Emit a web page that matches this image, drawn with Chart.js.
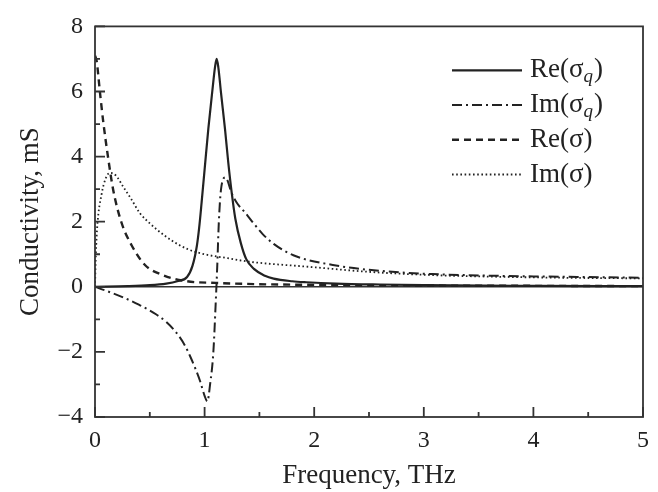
<!DOCTYPE html>
<html>
<head>
<meta charset="utf-8">
<script src="https://cdn.jsdelivr.net/npm/chart.js@4"></script>
<style>
  body { margin: 0; background: #fff; }
</style>
</head>
<body>
<canvas id="chart" width="658" height="492"></canvas>
<script>
// valores (frequência em THz, condutividade em mS)
const freqReSq = [0, 0.3, 0.5, 0.65, 0.75, 0.84, 0.89, 0.93, 0.95, 0.973, 1.0, 1.034, 1.07, 1.095, 1.11, 1.125, 1.15, 1.186, 1.215, 1.247, 1.28, 1.33, 1.38, 1.45, 1.55, 1.63, 1.8, 1.93, 2.2, 2.6, 3, 4, 5];
const valReSq  = [0, 0.02, 0.05, 0.1, 0.17, 0.3, 0.65, 1.27, 1.8, 2.6, 3.6, 4.85, 6.0, 6.75, 7.0, 6.75, 5.95, 4.85, 3.85, 2.9, 2.1, 1.35, 0.85, 0.55, 0.34, 0.25, 0.17, 0.14, 0.1, 0.07, 0.05, 0.03, 0.02];

const freqImSq = [0, 0.1, 0.26, 0.4, 0.56, 0.65, 0.745, 0.82, 0.87, 0.92, 0.96, 1.0, 1.025, 1.05, 1.08, 1.1, 1.115, 1.13, 1.15, 1.19, 1.25, 1.3, 1.37, 1.44, 1.53, 1.63, 1.81, 2.17, 2.6, 3.08, 3.5, 4, 4.5, 5];
const valImSq  = [0, -0.12, -0.33, -0.55, -0.85, -1.08, -1.42, -1.8, -2.15, -2.55, -2.91, -3.35, -3.52, -3.0, -2.0, -0.6, 0.6, 2.0, 3.0, 3.36, 2.85, 2.55, 2.28, 1.98, 1.62, 1.32, 0.97, 0.67, 0.49, 0.39, 0.35, 0.32, 0.3, 0.28];

const freqReS = [0, 0.015, 0.046, 0.076, 0.12, 0.167, 0.243, 0.335, 0.456, 0.61, 0.84, 1.1, 1.5, 2, 3, 4, 5];
const valReS  = [7.1, 6.94, 5.95, 5.05, 3.96, 2.96, 1.96, 1.27, 0.67, 0.37, 0.17, 0.12, 0.08, 0.06, 0.04, 0.03, 0.02];

const freqImS = [0, 0.008, 0.021, 0.061, 0.1, 0.137, 0.19, 0.26, 0.33, 0.41, 0.5, 0.56, 0.71, 0.85, 1.0, 1.21, 1.41, 1.93, 2.54, 3.15, 3.5, 4, 4.5, 5];
const valImS  = [0, 1.0, 1.87, 2.86, 3.35, 3.5, 3.42, 3.06, 2.7, 2.26, 1.95, 1.77, 1.4, 1.15, 1.0, 0.88, 0.77, 0.62, 0.45, 0.35, 0.32, 0.29, 0.27, 0.26];

const legendas = ['Re(σ_q)', 'Im(σ_q)', 'Re(σ)', 'Im(σ)'];
const xTicks = [0, 1, 2, 3, 4, 5];
const yTicks = [-4, -2, 0, 2, 4, 6, 8];

const COR = '#222';
const FONTE = '"Liberation Serif", "Times New Roman", serif';

function pares(xs, ys) {
    return xs.map((x, i) => ({ x: x, y: ys[i] }));
}

function serie(label, xs, ys, dash, width) {
    return {
        label: label,
        data: pares(xs, ys),
        borderColor: COR,
        borderWidth: width,
        borderDash: dash,
        pointRadius: 0,
        fill: false,
        cubicInterpolationMode: 'monotone'
    };
}

// Legenda desenhada à mão para ter o subscrito em itálico
const pluginLegenda = {
    id: 'legendaSub',
    afterDraw(chart) {
        const { ctx, chartArea } = chart;
        const x0 = chartArea.right - 191;
        const lineLen = 70;
        ctx.save();
        chart.data.datasets.forEach((ds, i) => {
            const y = chartArea.top + 44 + i * 34.7;
            ctx.beginPath();
            ctx.strokeStyle = COR;
            ctx.lineWidth = ds.borderWidth;
            ctx.setLineDash(ds.borderDash || []);
            ctx.moveTo(x0, y);
            ctx.lineTo(x0 + lineLen, y);
            ctx.stroke();
            ctx.setLineDash([]);

            const partes = ds.label.split('_');
            let tx = x0 + lineLen + 8;
            ctx.fillStyle = COR;
            ctx.textBaseline = 'middle';
            ctx.textAlign = 'left';
            ctx.font = '27px ' + FONTE;
            if (partes.length === 1) {
                ctx.fillText(partes[0], tx, y);
            } else {
                const base = partes[0];
                const sub = partes[1].replace(')', '');
                ctx.fillText(base, tx, y);
                tx += ctx.measureText(base).width;
                ctx.font = 'italic 19px ' + FONTE;
                ctx.fillText(sub, tx, y + 7);
                tx += ctx.measureText(sub).width + 1;
                ctx.font = '27px ' + FONTE;
                ctx.fillText(')', tx, y);
            }
        });
        ctx.restore();
    }
};

// Moldura e marcas de escala para dentro
const pluginMoldura = {
    id: 'moldura',
    afterDatasetsDraw(chart) {
        const { ctx, chartArea, scales } = chart;
        ctx.save();
        ctx.strokeStyle = '#333';
        ctx.lineWidth = 1.8;
        ctx.setLineDash([]);
        ctx.strokeRect(chartArea.left, chartArea.top, chartArea.right - chartArea.left, chartArea.bottom - chartArea.top);

        ctx.beginPath();
        for (let v = 0; v <= 5; v += 0.5) {
            const px = scales.x.getPixelForValue(v);
            const len = Number.isInteger(v) ? 10 : 5;
            ctx.moveTo(px, chartArea.bottom);
            ctx.lineTo(px, chartArea.bottom - len);
        }
        for (let v = -4; v <= 8; v += 1) {
            const py = scales.y.getPixelForValue(v);
            const len = v % 2 === 0 ? 10 : 5;
            ctx.moveTo(chartArea.left, py);
            ctx.lineTo(chartArea.left + len, py);
        }
        ctx.stroke();
        ctx.restore();
    }
};

Chart.defaults.font.family = FONTE;
Chart.defaults.color = COR;

const grafico = new Chart(document.getElementById('chart'), {
    type: 'line',
    data: {
        datasets: [
            serie(legendas[0], freqReSq, valReSq, [], 2.2),
            serie(legendas[1], freqImSq, valImSq, [10, 4, 2, 4], 2),
            serie(legendas[2], freqReS, valReS, [7, 5], 2.4),
            serie(legendas[3], freqImS, valImS, [1.6, 2.6], 1.8)
        ]
    },
    options: {
        responsive: false,
        animation: false,
        devicePixelRatio: 1,
        layout: { padding: { top: 14, right: 15, left: 0, bottom: 0 } },
        plugins: {
            legend: { display: false },
            tooltip: { enabled: false }
        },
        scales: {
            x: {
                type: 'linear',
                min: 0,
                max: 5,
                afterFit: (s) => { s.height = 75; },
                afterBuildTicks: (s) => { s.ticks = xTicks.map(v => ({ value: v })); },
                grid: { display: false, drawTicks: false },
                border: { display: false },
                ticks: {
                    padding: 9,
                    font: { size: 24 },
                    color: COR,
                    maxRotation: 0
                },
                title: {
                    display: true,
                    text: 'Frequency, THz',
                    font: { size: 27 },
                    color: COR,
                    padding: { top: 0, bottom: 0 }
                }
            },
            y: {
                min: -4,
                max: 8,
                afterFit: (s) => { s.width = 95; },
                afterBuildTicks: (s) => { s.ticks = yTicks.map(v => ({ value: v })); },
                grid: {
                    drawTicks: false,
                    color: (c) => c.tick && c.tick.value === 0 ? '#333' : 'rgba(0,0,0,0)',
                    lineWidth: 1.5
                },
                border: { display: false },
                ticks: {
                    padding: 12,
                    font: { size: 24 },
                    color: COR,
                    callback: (v) => String(v).replace('-', '−')
                },
                title: {
                    display: true,
                    text: 'Conductivity, mS',
                    font: { size: 27 },
                    color: COR,
                    padding: { top: 15, bottom: 0 }
                }
            }
        }
    },
    plugins: [pluginMoldura, pluginLegenda]
});
</script>
</body>
</html>
